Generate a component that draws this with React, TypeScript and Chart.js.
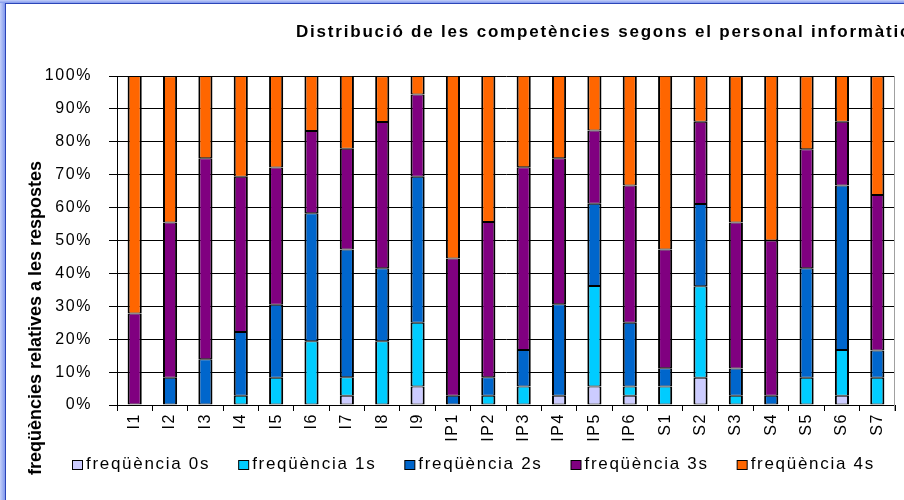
import React, { useEffect, useRef } from 'react';
import { Chart, registerables } from 'chart.js';

Chart.register(...registerables);

// ---- data (percent of responses) ----
const categories = ['I1', 'I2', 'I3', 'I4', 'I5', 'I6', 'I7', 'I8', 'I9', 'IP1', 'IP2', 'IP3', 'IP4', 'IP5', 'IP6', 'S1', 'S2', 'S3', 'S4', 'S5', 'S6', 'S7'];
const freq0 = [0, 0, 0, 0, 0, 0, 2.8, 0, 5.6, 0, 0, 0, 2.8, 5.6, 2.8, 0, 8.3, 0, 0, 0, 2.8, 0];
const freq1 = [0, 0, 0, 2.8, 8.3, 19.4, 5.6, 19.4, 19.4, 0, 2.8, 5.6, 0, 30.6, 2.8, 5.6, 27.8, 2.8, 0, 8.3, 13.9, 8.3];
const freq2 = [0, 8.3, 13.9, 19.4, 22.2, 38.9, 38.9, 22.2, 44.4, 2.8, 5.6, 11.1, 27.8, 25.0, 19.4, 5.6, 25.0, 8.3, 2.8, 33.3, 50.0, 8.3];
const freq3 = [27.8, 47.2, 61.1, 47.2, 41.7, 25.0, 30.6, 44.4, 25.0, 41.7, 47.2, 55.6, 44.4, 22.2, 41.7, 36.1, 25.0, 44.4, 47.2, 36.1, 19.4, 47.2];
const freq4 = [72.2, 44.4, 25.0, 30.6, 27.8, 16.7, 22.2, 13.9, 5.6, 55.6, 44.4, 27.8, 25.0, 16.7, 33.3, 52.8, 13.9, 44.4, 50.0, 22.2, 13.9, 36.1];
const seriesLabels = ['freqüència 0s', 'freqüència 1s', 'freqüència 2s', 'freqüència 3s', 'freqüència 4s'];
const seriesValues = [freq0, freq1, freq2, freq3, freq4];
const seriesColors = ['#CCCCFF', '#00CCFF', '#0066CC', '#800080', '#FF6600'];
const chartTitle = 'Distribució de les competències segons el personal informàtic';
const yAxisTitle = 'freqüències relatives a les respostes';
const yTickMin = 0;
const yTickMax = 100;
const yTickStep = 10;

const FONT = '"Liberation Sans", Arial, sans-serif';

const decoPlugin = {
  id: 'deco',
  beforeLayout(chart: any) {
    chart.ctx.letterSpacing = '1.6px';
  },
  beforeDraw(chart: any) {
    chart.ctx.letterSpacing = '1.6px';
  },
  beforeDatasetsDraw(chart: any) {
    const { ctx, chartArea: a } = chart;
    ctx.save();
    ctx.strokeStyle = '#a0a0a0';
    ctx.lineWidth = 1;
    ctx.beginPath();
    ctx.moveTo(Math.round(a.right) - 0.5, a.top);
    ctx.lineTo(Math.round(a.right) - 0.5, a.bottom + 6);
    ctx.stroke();
    ctx.restore();
  },
  afterDraw(chart: any) {
    const ctx = chart.ctx;
    ctx.save();
    ctx.fillStyle = '#000';
    // title
    ctx.letterSpacing = '1.8px';
    ctx.font = `bold 17px ${FONT}`;
    ctx.textAlign = 'left';
    ctx.textBaseline = 'alphabetic';
    ctx.fillText(chartTitle, 296, 37);
    // y axis title
    ctx.save();
    ctx.translate(36, 318);
    ctx.rotate(-Math.PI / 2);
    ctx.letterSpacing = '0px';
    ctx.font = `bold 18px ${FONT}`;
    ctx.textAlign = 'center';
    ctx.textBaseline = 'middle';
    ctx.fillText(yAxisTitle, 0, 0);
    ctx.restore();
    // legend
    ctx.font = `17px ${FONT}`;
    ctx.letterSpacing = '1.7px';
    ctx.textAlign = 'left';
    ctx.textBaseline = 'alphabetic';
    let x = 72;
    chart.data.datasets.forEach((ds: any) => {
      ctx.fillStyle = ds.backgroundColor;
      ctx.fillRect(x + 0.5, 460.5, 10, 9);
      ctx.strokeStyle = '#000';
      ctx.lineWidth = 1;
      ctx.strokeRect(x + 0.5, 460.5, 10, 9);
      ctx.fillStyle = '#000';
      ctx.fillText(ds.label, x + 14, 469);
      x += 14 + ctx.measureText(ds.label).width + 28;
    });
    ctx.restore();
  },
};

export default function App() {
  const ref = useRef<HTMLCanvasElement | null>(null);

  useEffect(() => {
    if (!ref.current) return;
    const chart = new Chart(ref.current, {
      type: 'bar',
      data: {
        labels: categories,
        datasets: seriesValues.map((vals, i) => ({
          label: seriesLabels[i],
          data: vals,
          backgroundColor: seriesColors[i],
          borderColor: '#000',
          borderWidth: { left: 2, right: 2, top: 1, bottom: 1 },
          borderSkipped: false,
          barPercentage: 0.4,
          categoryPercentage: 1,
        })),
      },
      options: {
        responsive: false,
        animation: false,
        layout: { padding: { left: 0, right: 9, top: 76, bottom: 0 } },
        plugins: {
          legend: { display: false },
          title: { display: false },
          tooltip: { enabled: false },
        },
        scales: {
          x: {
            stacked: true,
            grid: { display: true, drawOnChartArea: false, drawTicks: true, tickLength: 6, color: '#000', offset: true },
            border: { display: true, color: '#000', width: 1 },
            ticks: { font: { family: FONT, size: 16 }, color: '#000', minRotation: 90, maxRotation: 90, autoSkip: false, padding: 2 },
            afterFit(s: any) { s.height = 95; },
          },
          y: {
            stacked: true,
            min: yTickMin,
            max: yTickMax,
            ticks: { stepSize: yTickStep, callback: (v: any) => v + '%', font: { family: FONT, size: 16 }, color: '#000', padding: 17 },
            grid: { color: '#000', tickLength: 8, lineWidth: 1 },
            border: { display: true, color: '#000', width: 1 },
            afterFit(s: any) { s.width = 117; },
          },
        },
      },
      plugins: [decoPlugin],
    } as any);
    return () => chart.destroy();
  }, []);

  return (
    <div style={{ position: 'fixed', left: 0, top: 0, width: 904, height: 500, background: '#fff', overflow: 'hidden' }}>
      <canvas ref={ref} width={904} height={500} style={{ position: 'absolute', left: 0, top: 0, width: 904, height: 500 }} />
      <div style={{ position: 'absolute', left: 0, top: 0, width: 5, height: 500, background: 'linear-gradient(to right, #c3cff9, #8299ee)' }} />
      <div style={{ position: 'absolute', left: 5, top: 3, width: 1, height: 497, background: '#2b45b8' }} />
      <div style={{ position: 'absolute', left: 0, top: 0, width: 904, height: 3, background: 'linear-gradient(to bottom, #c3cff9, #8299ee)' }} />
      <div style={{ position: 'absolute', left: 5, top: 3, width: 899, height: 1, background: '#2b45b8' }} />
    </div>
  );
}
